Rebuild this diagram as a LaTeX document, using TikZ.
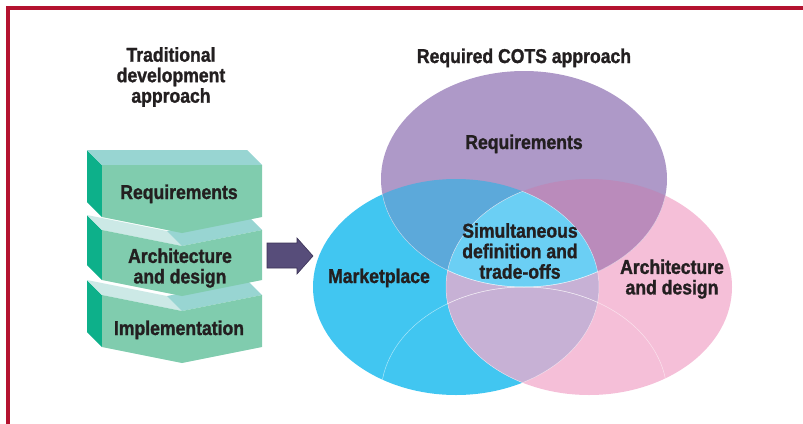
\documentclass[tikz,border=0pt]{standalone}
\usepackage{fontspec}
\setmainfont{Liberation Sans}[FakeStretch=0.88, BoldFeatures={FakeBold=1.3}]
\definecolor{frame}{HTML}{B4122F}
\definecolor{txt}{HTML}{231F20}
\definecolor{side}{HTML}{0DB08A}
\definecolor{front}{HTML}{80CCAE}
\definecolor{topface}{HTML}{98D5D2}
\definecolor{litface}{HTML}{CCE9E6}
\definecolor{arrowfill}{HTML}{574D7A}
\definecolor{arrowline}{HTML}{3B3356}
\definecolor{cT}{HTML}{AE99C8}
\definecolor{cL}{HTML}{41C6F1}
\definecolor{cR}{HTML}{F5BFD8}
\definecolor{cTL}{HTML}{5CA9DA}
\definecolor{cTR}{HTML}{BA8BBB}
\definecolor{cLR}{HTML}{C7B1D5}
\definecolor{cC}{HTML}{6BCFF4}
\tikzset{
  lbl/.style={font=\bfseries\fontsize{20}{20.5}\selectfont, text=txt, align=center, inner sep=0pt},
  sideface/.style={fill=side},
  frontface/.style={fill=front},
  darktop/.style={fill=topface},
  lighttop/.style={fill=litface},
  edge/.style={draw=white, draw opacity=0.55, line width=0.5pt},
  ell/.style={x radius=143, y radius=108}
}
\begin{document}
\begin{tikzpicture}[x=1pt, y=-1pt]
\useasboundingbox (0,0) rectangle (803,423);
% frame
\draw[frame, line width=4pt] (8,425) -- (8,8) -- (805,8);

% titles
\node[lbl] (tradtitle) at (171,77) {Traditional\\development\\approach};
\node[lbl, anchor=base] (cotstitle) at (524,63) {Required COTS approach};

% box 3
\fill[sideface] (87,280) -- (102,295) -- (102,347) -- (87,332) -- cycle;
\fill[lighttop] (87,280) -- (167,296) -- (182,311) -- (102,295) -- cycle;
\fill[darktop] (167,296) -- (247,280) -- (262,295) -- (182,311) -- cycle;
\fill[frontface] (102,295) -- (182,311) -- (262,295) -- (262,347) -- (182,363) -- (102,347) -- cycle;
% box 2
\fill[sideface] (87,215) -- (102,230) -- (102,280) -- (87,265) -- cycle;
\fill[lighttop] (87,215) -- (167,231) -- (182,246) -- (102,230) -- cycle;
\fill[darktop] (167,231) -- (247,215) -- (262,230) -- (182,246) -- cycle;
\fill[frontface] (102,230) -- (182,246) -- (262,230) -- (262,280) -- (182,296) -- (102,280) -- cycle;
% box 1
\fill[sideface] (87,150) -- (102,165) -- (102,217) -- (87,202) -- cycle;
\fill[darktop] (87,150) -- (247,150) -- (262,165) -- (102,165) -- cycle;
\fill[frontface] (102,165) -- (262,165) -- (262,217) -- (182,233) -- (102,217) -- cycle;

\node[lbl, anchor=base] (req1) at (179,199) {Requirements};
\node[lbl] (arch1) at (180,268) {Architecture\\and design};
\node[lbl, anchor=base] (impl1) at (179,335) {Implementation};

% block arrow
\draw[fill=arrowfill, draw=arrowline, line width=0.6pt]
  (267,243) -- (297,243) -- (297,238) -- (313,256) -- (297,274) -- (297,268) -- (267,268) -- cycle;

% Venn diagram
\coordinate (T) at (524,179);
\coordinate (L) at (456,287);
\coordinate (R) at (589,287);
\coordinate (B) at (524,395);
\fill[cL] (L) ellipse [ell];
\fill[cR] (R) ellipse [ell];
\fill[cT] (T) ellipse [ell];
\begin{scope}
  \clip (T) ellipse [ell];
  \fill[cTL] (L) ellipse [ell];
  \fill[cTR] (R) ellipse [ell];
\end{scope}
\begin{scope}
  \clip (L) ellipse [ell];
  \fill[cLR] (R) ellipse [ell];
\end{scope}
\begin{scope}
  \clip (T) ellipse [ell];
  \clip (L) ellipse [ell];
  \fill[cC] (R) ellipse [ell];
\end{scope}
\begin{scope}
  \clip (L) ellipse [ell];
  \draw[edge] (T) ellipse [ell];
  \draw[edge] (R) ellipse [ell];
  \draw[edge] (B) ellipse [ell];
\end{scope}
\begin{scope}
  \clip (R) ellipse [ell];
  \draw[edge] (T) ellipse [ell];
  \draw[edge] (L) ellipse [ell];
  \draw[edge] (B) ellipse [ell];
\end{scope}

\node[lbl, anchor=base] (req2) at (524,149) {Requirements};
\node[lbl, anchor=base] (market) at (379,283) {Marketplace};
\node[lbl] (arch2) at (672,279) {Architecture\\and design};
\node[lbl] (simul) at (520,251) {Simultaneous\\definition and\\trade-offs};
\end{tikzpicture}
\end{document}
